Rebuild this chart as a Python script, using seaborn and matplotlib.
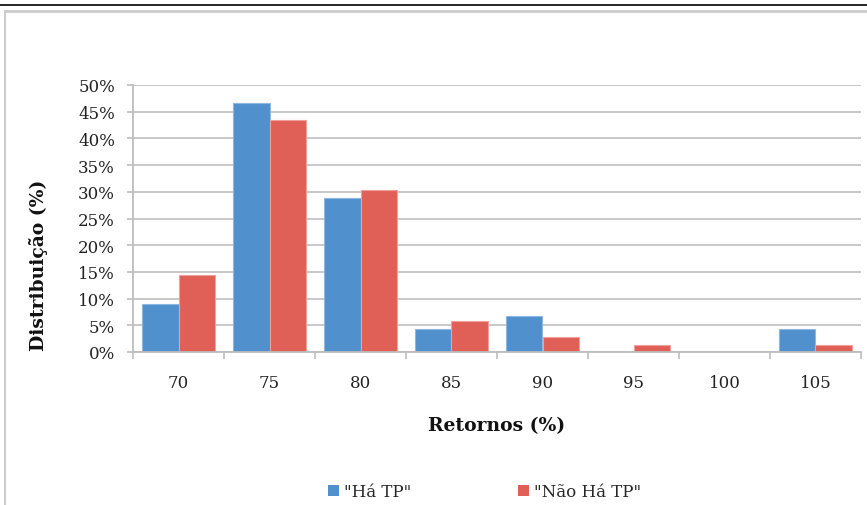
import numpy as np
import pandas as pd
import matplotlib
matplotlib.use("Agg")
import matplotlib.pyplot as plt
from matplotlib.ticker import FuncFormatter, FixedLocator
from matplotlib.lines import Line2D
import seaborn as sns

# dados
retornos = ["70", "75", "80", "85", "90", "95", "100", "105"]
ha_tp = [8.9, 46.7, 28.9, 4.4, 6.7, 0.0, 0.0, 4.4]
nao_ha_tp = [14.5, 43.5, 30.4, 5.8, 2.9, 1.4, 0.0, 1.4]
series = ['"Há TP"', '"Não Há TP"']

df = pd.DataFrame({
    "Retornos": retornos * 2,
    "Distribuicao": ha_tp + nao_ha_tp,
    "Serie": [series[0]] * len(retornos) + [series[1]] * len(retornos),
})

sns.set_theme(style="white")
plt.rcParams["font.family"] = ["DejaVu Serif"]

cores = ["#4F90CD", "#E05F57"]
bordas = ["#8DB6E0", "#F0A09A"]

fig = plt.figure(figsize=(8.67, 5.06), dpi=100)
ax = fig.add_axes([133 / 867, 1 - 353 / 506, (861 - 133) / 867, (353 - 86) / 506])

sns.barplot(data=df, x="Retornos", y="Distribuicao", hue="Serie",
            palette=cores, width=0.8, ax=ax, saturation=1, legend=False)
for patch_group, cor in zip(ax.containers, bordas):
    for p in patch_group:
        p.set_edgecolor(cor)
        p.set_linewidth(0.8)

ax.set_ylim(0, 50)
ax.set_xlim(-0.5, len(retornos) - 0.5)
ax.set_yticks(np.arange(0, 51, 5))
ax.yaxis.set_major_formatter(FuncFormatter(lambda v, _: f"{v:.0f}%"))
ax.yaxis.grid(True, color="#c4c4c4", lw=1.3)
ax.set_axisbelow(True)

for s in ["top", "right"]:
    ax.spines[s].set_visible(False)
for s in ["left", "bottom"]:
    ax.spines[s].set_color("#bdbdbd")
    ax.spines[s].set_linewidth(1.3)

ax.tick_params(axis="y", left=True, length=4, width=1.2, color="#bdbdbd", direction="out",
               pad=9, labelsize=12, labelcolor="#222222")
ax.tick_params(axis="x", which="major", bottom=True, length=0, pad=16, labelsize=12,
               labelcolor="#222222")
ax.xaxis.set_minor_locator(FixedLocator(np.arange(-0.5, len(retornos), 1.0)))
ax.tick_params(axis="x", which="minor", bottom=True, length=5, width=1.2,
               color="#bdbdbd", direction="out")

ax.set_xlabel("Retornos (%)", fontsize=13.5, fontweight="bold", labelpad=18, color="#111111")
ax.set_ylabel("Distribuição (%)", fontsize=13.5, fontweight="bold", color="#111111")
ax.yaxis.set_label_coords(-0.117, 0.33)

handles = [plt.Rectangle((0, 0), 1, 1, fc=c, ec="none") for c in cores]
fig.legend(handles, series, loc="center", bbox_to_anchor=(0.559, 1 - 493 / 506),
           ncol=2, frameon=False, fontsize=12, handlelength=0.65, handleheight=0.65,
           handletextpad=0.3, columnspacing=6.4)

# moldura da página
fig.add_artist(Line2D([0, 1], [1 - 6 / 506] * 2, color="black", lw=1.2, transform=fig.transFigure))
fig.add_artist(Line2D([4.5 / 867, 1], [1 - 12 / 506] * 2, color="#cccccc", lw=2, transform=fig.transFigure))
fig.add_artist(Line2D([4.5 / 867] * 2, [0, 1 - 12 / 506], color="#cccccc", lw=1.5, transform=fig.transFigure))

fig.savefig("out.png", dpi=100)
